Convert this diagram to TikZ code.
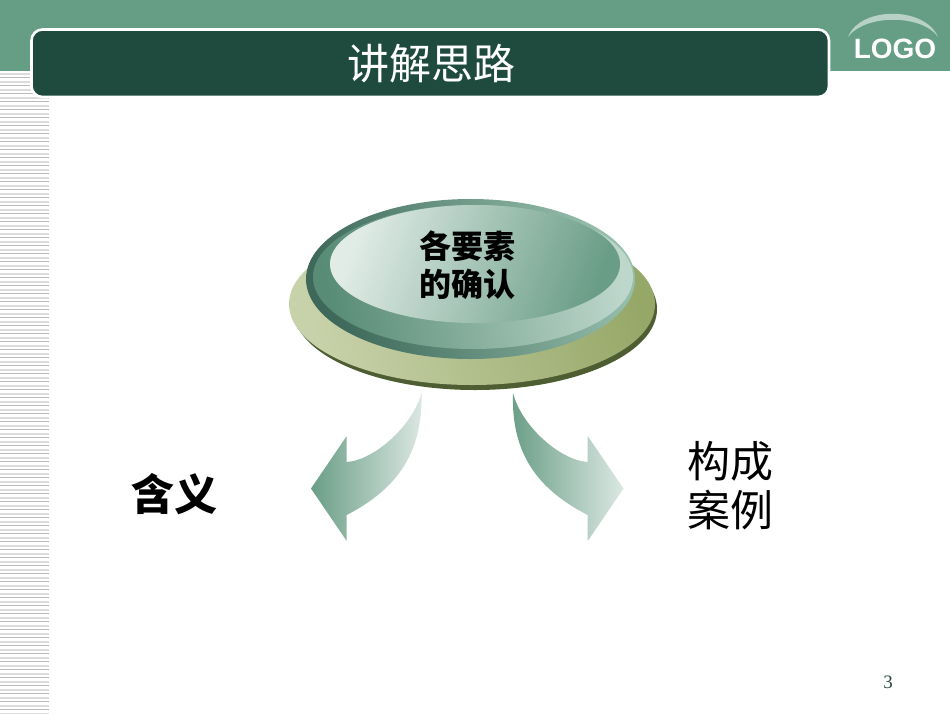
\documentclass[tikz,border=0pt]{standalone}
\usepackage{fontspec}
\setmainfont{Liberation Sans}
\newfontfamily\cjk{Noto Sans CJK SC}
\newfontfamily\serifnum{Liberation Serif}
\definecolor{band}{HTML}{669D85}
\definecolor{titlebg}{HTML}{1E4B3E}
\definecolor{arrowdark}{HTML}{6A9E87}
\definecolor{arrowlight}{HTML}{DCE8E3}
\tikzset{
  cnlabel/.style={font=\cjk\fontsize{43}{49}\selectfont, align=center, inner sep=0pt, text=black},
  cnbold/.style={font=\cjk\bfseries\fontsize{32}{38}\selectfont, align=center, inner sep=0pt, text=black},
  arrowshade/.style={left color=arrowdark, right color=arrowlight, draw=none},
}
\begin{document}
\begin{tikzpicture}[x=1pt,y=-1pt]
\useasboundingbox (0,0) rectangle (950,713);
\fill[white] (0,0) rectangle (950,713);
% stripes
\foreach \k in {0,...,79} {
  \fill[black!27] (0,{77+8*\k}) rectangle (49,{78+8*\k});
  \fill[black!14] (0,{80.6+8*\k}) rectangle (49,{82.6+8*\k});
}
\fill[black!14] (0,72.6) rectangle (49,74.6);
% top band
\fill[band] (0,0) rectangle (950,71);
\fill[white] (0,71) rectangle (950,72);
% title box
\draw[white,line width=2.6pt,fill=titlebg,rounded corners=11pt] (31.5,29.5) rectangle (829,97);
\node[font=\cjk\fontsize{42}{46}\selectfont,text=white,inner sep=0pt] (title) at (431,64) {讲解思路};
% logo
\fill[white!45!band!85!white] (848,37) .. controls (860,6) and (925,6) .. (938,37)
      .. controls (922,14) and (865,14) .. cycle;
\node[font=\bfseries\fontsize{28}{30}\selectfont,text=white,inner sep=0pt] (logo) at (895,49) {LOGO};
% olive disc
\fill[black!10!white,opacity=.0] (0,0) circle (0);
\fill[fill={rgb,255:red,79;green,94;blue,50}] (475,309) ellipse [x radius=182,y radius=81];
\shade[left color={rgb,255:red,200;green,210;blue,170},right color={rgb,255:red,150;green,168;blue,104},shading angle=105]
   (472,304) ellipse [x radius=183,y radius=81];
% green button
\shade[left color={rgb,255:red,62;green,105;blue,90},right color={rgb,255:red,150;green,190;blue,172},shading angle=110]
   (470.5,279) ellipse [x radius=164.5,y radius=80];
\shade[left color={rgb,255:red,88;green,140;blue,118},right color={rgb,255:red,190;green,215;blue,204},shading angle=100]
   (473,277) ellipse [x radius=160,y radius=72];
\shade[left color={rgb,255:red,225;green,236;blue,231},right color={rgb,255:red,106;green,157;blue,135},shading angle=70]
   (475,264) ellipse [x radius=145,y radius=59];
\node[cnbold] (center) at (467,265.5) {各要素\\的确认};
% arrows
\shade[arrowshade] (421.5,393) .. controls (413,425) and (375,460) .. (346.7,462)
   -- (346.7,436) -- (311,488.5) -- (346.7,541) -- (346.7,515)
   .. controls (395,490) and (423,455) .. cycle;
\shade[arrowshade] (513,393) .. controls (521,425) and (559,460) .. (587.7,462)
   -- (587.7,436) -- (623.5,488.5) -- (587.7,541) -- (587.7,515)
   .. controls (539,490) and (511,455) .. cycle;
% labels
\node[cnlabel,font=\cjk\bfseries\fontsize{43}{49}\selectfont] (meaning) at (174,494) {含义};
\node[cnlabel] (cases) at (730,486) {构成\\案例};
\node[font=\serifnum\fontsize{19}{22}\selectfont,text={rgb,255:red,44;green,74;blue,64},inner sep=0pt] (page) at (888,682) {3};
\end{tikzpicture}
\end{document}
